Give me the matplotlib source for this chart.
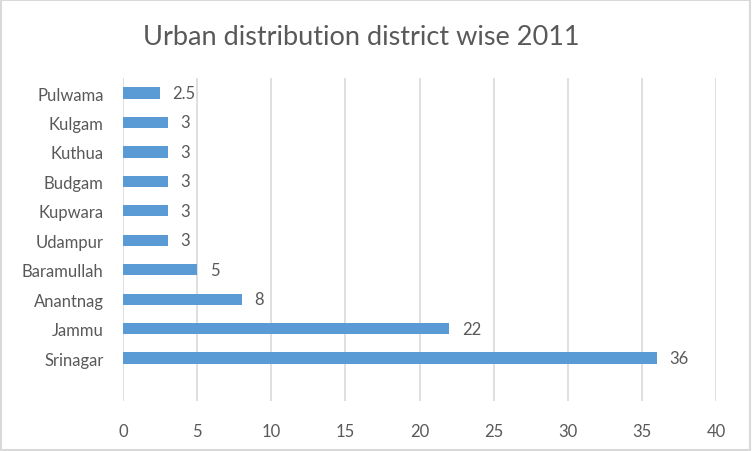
import matplotlib.pyplot as plt
from matplotlib.patches import Rectangle

plt.rcParams['font.family'] = ['Lato', 'DejaVu Sans']

districts = ['Srinagar', 'Jammu', 'Anantnag', 'Baramullah', 'Udampur',
             'Kupwara', 'Budgam', 'Kuthua', 'Kulgam', 'Pulwama']
urban = [36, 22, 8, 5, 3, 3, 3, 3, 3, 2.5]
value_labels = ['36', '22', '8', '5', '3', '3', '3', '3', '3', '2.5']
xticks = [0, 5, 10, 15, 20, 25, 30, 35, 40]

txt = '#595959'
bar_col = '#5B9BD5'
grid_col = '#D9D9D9'

fig = plt.figure(figsize=(7.52, 4.52), dpi=100)
fig.patches.append(Rectangle((0.001, 0.002), 0.997, 0.995, transform=fig.transFigure,
                             fill=False, edgecolor=grid_col, linewidth=1.5))

ax = fig.add_axes([0.1636, 0.1106, 0.7886, 0.7146])
pos = list(range(len(districts)))
ax.barh(pos, urban, height=0.38, color=bar_col, zorder=3)

for p, v, lab in zip(pos, urban, value_labels):
    ax.annotate(lab, (v, p), xytext=(9, 0), textcoords='offset points',
                va='center', ha='left', fontsize=12, color=txt)

ax.set_xlim(0, 40)
ax.set_ylim(-1.46, 9.51)
ax.set_xticks(xticks)
ax.set_yticks(pos)
ax.set_yticklabels(districts)
ax.grid(axis='x', color=grid_col, linewidth=1.2, zorder=0)
ax.tick_params(axis='both', length=0, labelsize=12, labelcolor=txt)
ax.tick_params(axis='x', pad=16)
ax.tick_params(axis='y', pad=14)
for s in ax.spines.values():
    s.set_visible(False)

fig.text(0.48, 0.918, 'Urban distribution district wise 2011', ha='center', va='center',
         fontsize=19.5, color=txt)

fig.savefig('out.png', dpi=100)
